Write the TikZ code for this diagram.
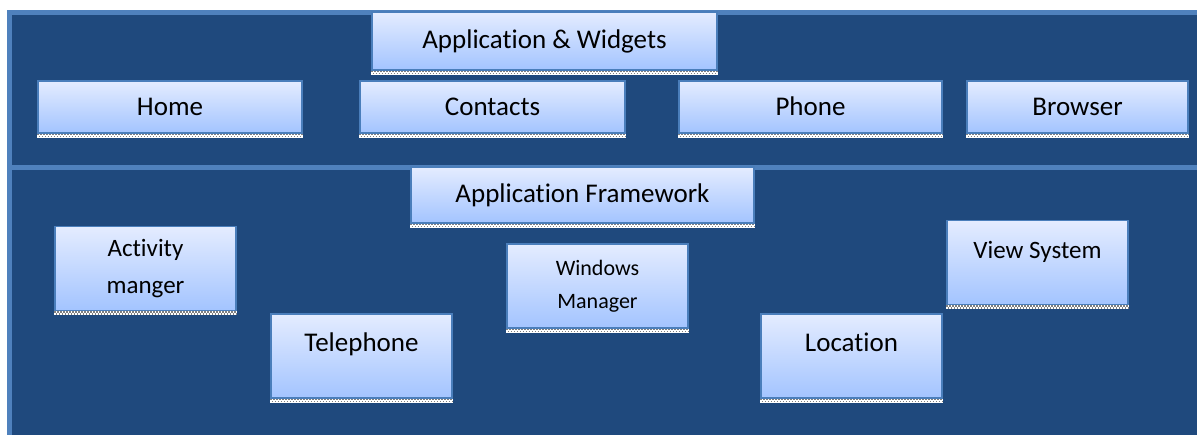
\documentclass[tikz,border=0pt]{standalone}
\usepackage{fontspec}
\setmainfont{Carlito}[Ligatures=NoCommon]
\usepackage{tikz}
\definecolor{paneldark}{RGB}{31,73,125}
\definecolor{panelline}{RGB}{79,129,189}
\definecolor{boxtop}{RGB}{228,236,255}
\definecolor{boxbot}{RGB}{163,196,255}
\definecolor{boxline}{RGB}{74,126,187}
\tikzstyle{panel} = [fill=paneldark, draw=panelline, line width=5pt]
\tikzstyle{box} = [draw=boxline, line width=1.5pt, top color=boxtop, bottom color=boxbot, inner sep=0pt, align=center, font=\fontsize{27}{33}\selectfont]
\tikzstyle{wide} = [box, minimum height=52pt, text height=21pt, text depth=3pt]
\tikzstyle{small} = [box, minimum width=181pt, minimum height=84pt]
\tikzstyle{toptext} = [text height=37pt, text depth=45pt]
\tikzstyle{strip} = [white, line width=4pt]
\tikzstyle{dots} = [gray, line width=1.5pt, dash pattern=on 1.5pt off 1.5pt]

\begin{document}
\begin{tikzpicture}[x=1pt,y=-1pt]
			\useasboundingbox (0,0) rectangle (1197,435);
			\draw[panel] (9.5,12.5) rectangle (1205,167.5);
			\draw[panel] (9.5,167.5) rectangle (1205,445);
			
			\node[box, minimum width=345pt, minimum height=58pt](aw) at (544.5,41){Application \& Widgets};
			\node[wide, minimum width=264pt](home) at (170,107){Home};
			\node[wide, minimum width=265pt](contacts) at (492.5,107){Contacts};
			\node[wide, minimum width=263pt](phone) at (810.5,107){Phone};
			\node[wide, minimum width=221pt](browser) at (1077.5,107){Browser};
			
			\node[box, minimum width=343pt, minimum height=56pt](af) at (582.5,195){Application Framework};
			\node[small, font=\fontsize{25}{37}\selectfont](act) at (145.5,268.5){Activity\\manger};
			\node[small, toptext](tel) at (361.5,356){Telephone};
			\node[small, font=\fontsize{22}{33}\selectfont](win) at (597.5,286){Windows\\Manager};
			\node[small, toptext](loc) at (851.5,356){Location};
			\node[small, toptext, font=\fontsize{25}{30}\selectfont](view) at (1037.5,262.5){View System};
			
			\foreach \n in {aw,home,contacts,phone,browser,af,act,tel,win,loc,view}{
				\draw[strip] ([yshift=-2pt]\n.south west) -- ([yshift=-2pt]\n.south east);
				\draw[dots] ([yshift=-1pt]\n.south west) -- ([yshift=-1pt]\n.south east);
				\draw[dots, dash phase=1.5pt] ([yshift=-3pt]\n.south west) -- ([yshift=-3pt]\n.south east);
			}
		\end{tikzpicture}
\end{document}
